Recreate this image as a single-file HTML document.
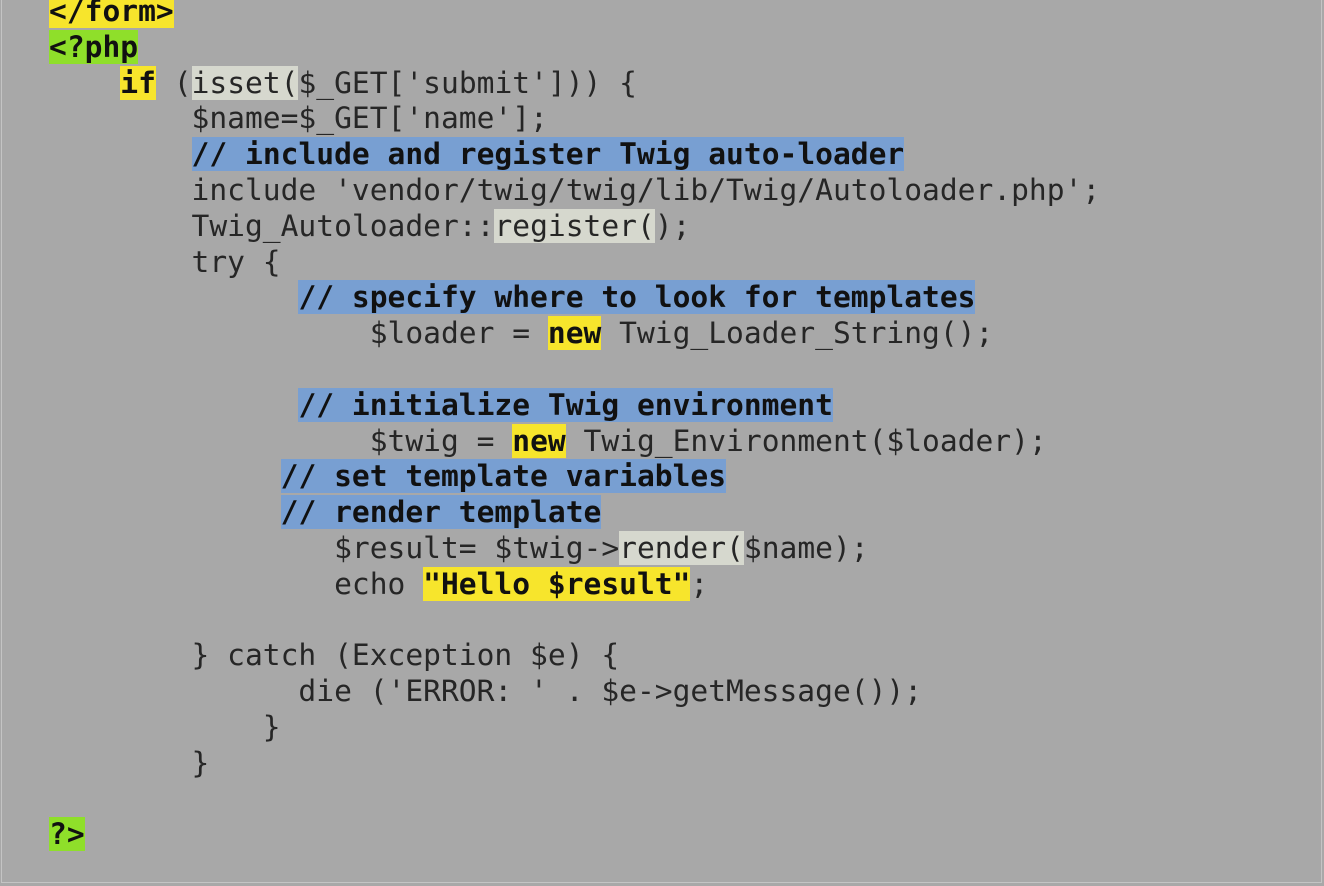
<!DOCTYPE html>
<html><head><meta charset="utf-8"><style>
html,body{margin:0;padding:0;}
body{width:1324px;height:886px;background:#a8a8a8;overflow:hidden;position:relative;}
.frame{position:absolute;left:1px;top:0;width:1319px;height:882px;border:1px solid #c4c4c4;border-top:none;}
pre{position:absolute;left:49px;top:-6px;margin:0;font-family:"DejaVu Sans Mono","Liberation Mono",monospace;font-size:29.6px;line-height:35.8px;color:#262626;}
.y{background:#f7e52c;font-weight:bold;color:#111;}
.g{background:#8fdf2a;font-weight:bold;color:#111;}
.b{background:#789fd2;font-weight:bold;color:#111;}
.l{background:#d6d8ce;}
</style></head><body><div class="frame"></div>
<pre><span class="y">&lt;/form&gt;</span>
<span class="g">&lt;?php</span>
    <span class="y">if</span> (<span class="l">isset(</span>$_GET['submit'])) {
        $name=$_GET['name'];
        <span class="b">// include and register Twig auto-loader</span>
        include 'vendor/twig/twig/lib/Twig/Autoloader.php';
        Twig_Autoloader::<span class="l">register(</span>);
        try {
              <span class="b">// specify where to look for templates</span>
                  $loader = <span class="y">new</span> Twig_Loader_String();

              <span class="b">// initialize Twig environment</span>
                  $twig = <span class="y">new</span> Twig_Environment($loader);
             <span class="b">// set template variables</span>
             <span class="b">// render template</span>
                $result= $twig-&gt;<span class="l">render(</span>$name);
                echo <span class="y">"Hello $result"</span>;

        } catch (Exception $e) {
              die ('ERROR: ' . $e-&gt;getMessage());
            }
        }

<span class="g">?&gt;</span></pre>
</body></html>
